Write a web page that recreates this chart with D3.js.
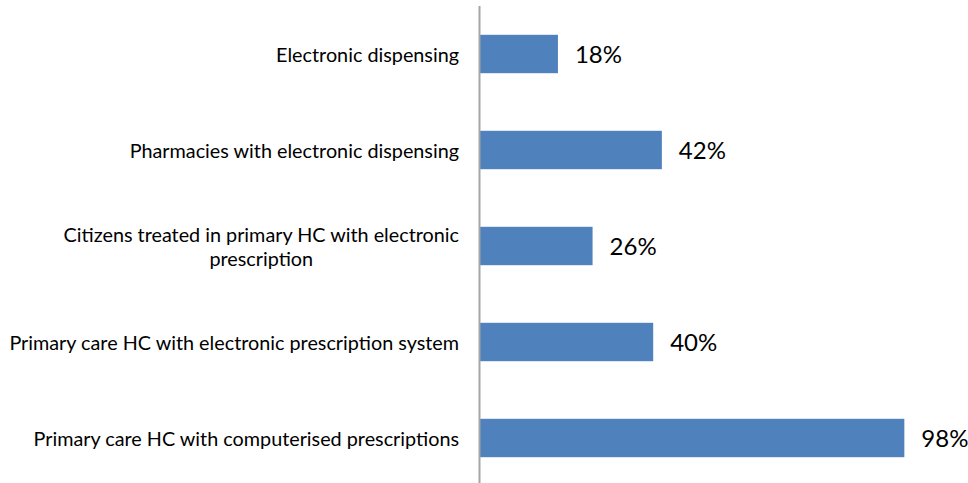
<!DOCTYPE html>
<html><head><meta charset="utf-8">
<script src="https://cdn.jsdelivr.net/npm/d3@7"></script>
<style>body{margin:0;background:#fff}svg{display:block}</style>
</head><body>
<svg id="c" width="968" height="483"></svg>
<script>
const categories = [
  "Electronic dispensing",
  "Pharmacies with electronic dispensing",
  "Citizens treated in primary HC with electronic prescription",
  "Primary care HC with electronic prescription system",
  "Primary care HC with computerised prescriptions"
];
const values = [0.18, 0.42, 0.26, 0.40, 0.98];
const valueLabels = ["18%", "42%", "26%", "40%", "98%"];

const svg = d3.select("#c");
const axisX = 480;
const x = d3.scaleLinear().domain([0, 1]).range([axisX, axisX + 433]);
const y = d3.scaleBand().domain(categories).range([6, 486]).paddingInner(0.6).paddingOuter(0.3);
const font = "Lato, sans-serif";

svg.selectAll("rect.bar").data(values).join("rect")
  .attr("class", "bar")
  .attr("x", x(0))
  .attr("y", (d, i) => y(categories[i]))
  .attr("width", d => x(d) - x(0))
  .attr("height", y.bandwidth())
  .attr("fill", "#4F81BD");

svg.append("line").attr("x1", axisX - 0.5).attr("x2", axisX - 0.5)
  .attr("y1", 6).attr("y2", 483).attr("stroke", "#A6A6A6").attr("stroke-width", 2);

svg.selectAll("text.val").data(values).join("text")
  .attr("class", "val")
  .attr("x", d => x(d) + 17)
  .attr("y", (d, i) => y(categories[i]) + y.bandwidth() / 2 + 8.5)
  .attr("font-family", font).attr("font-size", 24).attr("fill", "#000")
  .text((d, i) => valueLabels[i]);

const maxW = 462, fs = 19.8, lh = 24;
categories.forEach((c, i) => {
  const g = svg.append("text").attr("font-family", font).attr("font-size", fs).attr("fill", "#000");
  const words = c.split(" ");
  const lines = [];
  let cur = [];
  const probe = svg.append("text").attr("font-family", font).attr("font-size", fs);
  words.forEach(w => {
    const t = cur.concat([w]).join(" ");
    probe.text(t);
    if (probe.node().getComputedTextLength() > maxW && cur.length) { lines.push(cur.join(" ")); cur = [w]; }
    else cur.push(w);
  });
  lines.push(cur.join(" "));
  const widths = lines.map(l => { probe.text(l); return probe.node().getComputedTextLength(); });
  probe.remove();
  const bw = d3.max(widths);
  const cx = axisX - 21 - bw / 2;
  const cy = y(c) + y.bandwidth() / 2;
  const y0 = cy - (lines.length - 1) * lh / 2 + 7.5;
  lines.forEach((l, k) => {
    g.append("tspan").attr("x", cx).attr("y", y0 + k * lh).attr("text-anchor", "middle").text(l);
  });
});
</script>
</body></html>
